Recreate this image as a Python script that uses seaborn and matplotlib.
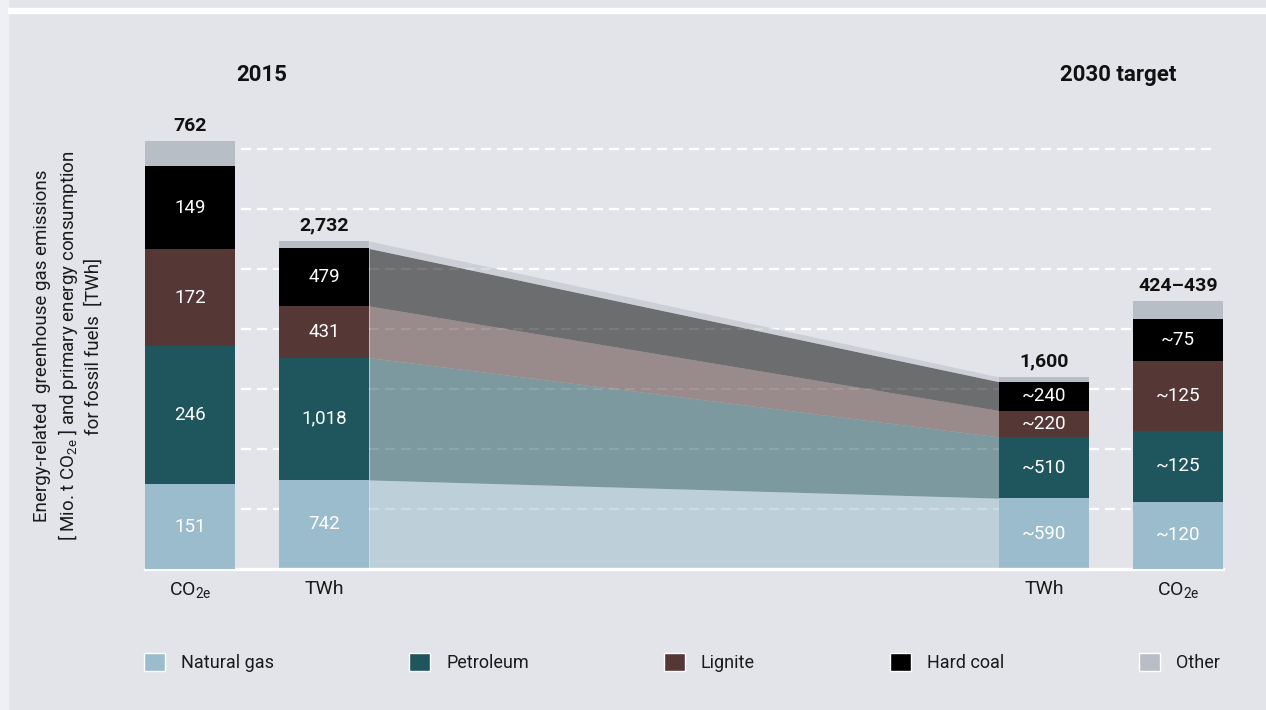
import matplotlib
matplotlib.use("Agg")
import matplotlib.pyplot as plt
from matplotlib.patches import Patch, Rectangle
import seaborn as sns

# ---- data -------------------------------------------------------------
fuels = ["Natural gas", "Petroleum", "Lignite", "Hard coal", "Other"]
colors = ["#9bbccc", "#1f555c", "#553835", "#000000", "#b7bec6"]

co2_2015 = [151, 246, 172, 149, 44]      # Mio. t CO2e
twh_2015 = [742, 1018, 431, 479, 62]     # TWh
twh_2030 = [590, 510, 220, 240, 40]      # TWh (approx.)
co2_2030 = [120, 125, 125, 75, 32]       # Mio. t CO2e (approx.)

totals = ["762", "2,732", "1,600", "424\u2013439"]
approx = [False, False, True, True]
bar_units = ["CO$_{\\mathregular{2e}}$", "TWh", "TWh", "CO$_{\\mathregular{2e}}$"]
positions = [0.0, 1.0, 6.37, 7.37]
headers = ["2015", "2030 target"]

ylabel = ("Energy-related  greenhouse gas emissions\n"
          "[ Mio. t CO$_{\\mathregular{2e}}$ ] and primary energy consumption\n"
          "for fossil fuels  [TWh]")

# ---- style ------------------------------------------------------------
BG = "#e3e4e9"
sns.set_theme(style="white", rc={
    "figure.facecolor": BG,
    "axes.facecolor": BG,
})
plt.rcParams["font.family"] = ["Roboto", "DejaVu Sans"]
plt.rcParams["mathtext.fontset"] = "custom"
plt.rcParams["mathtext.rm"] = "Roboto"
plt.rcParams["mathtext.it"] = "Roboto"
plt.rcParams["mathtext.bf"] = "Roboto:bold"

W, H = 1266, 710
fig = plt.figure(figsize=(W / 100, H / 100), dpi=100)

# page decorations: light margin strip on the left, white rule at the top
fig.patches.append(Rectangle((0, 0), 8 / W, 1, transform=fig.transFigure,
                             color="#eff0f3", zorder=0))
fig.patches.append(Rectangle((8 / W, 1 - 13 / H), 1, 5 / H,
                             transform=fig.transFigure, color="white", zorder=0))

bw = 90 / 134
ax_left, ax_right, ax_base, ax_top = 145, 1223, 569, 100
ax = fig.add_axes([ax_left / W, (H - ax_base) / H,
                   (ax_right - ax_left) / W, (ax_base - ax_top) / H])
ax.set_xlim(positions[0] - bw / 2, positions[-1] + bw / 2)
ax.set_ylim(0, 3906)                    # TWh scale
ax2 = ax.twinx()
ax2.set_ylim(0, 835)                    # Mio. t CO2e scale

# dashed reference lines, stopping just short of the last bar's edge
grid_x1 = positions[-1] + bw / 2 - 10 / 134
ax.hlines(range(500, 4000, 500), positions[0] - bw / 2, grid_x1,
          color="white", linewidth=1.6, linestyle=(0, (4.5, 2.7)), zorder=1)
ax.set_yticks([])
ax2.set_yticks([])

sns.despine(ax=ax, left=True, right=True, top=True)
sns.despine(ax=ax2, left=True, right=True, top=True, bottom=True)
ax.spines["bottom"].set_color("white")
ax.spines["bottom"].set_linewidth(2.4)
ax.spines["bottom"].set_zorder(5)


def stacked(axis, x, values, is_approx):
    bottom = 0
    for i, (v, c) in enumerate(zip(values, colors)):
        axis.bar(x, v, bw, bottom=bottom, color=c, linewidth=0, zorder=3)
        if i < len(values) - 1:
            txt = ("~" if is_approx else "") + f"{v:,}"
            axis.text(x, bottom + v / 2, txt, color="white", fontsize=13.5,
                      ha="center", va="center", zorder=4)
        bottom += v
    return bottom


series = [(ax2, co2_2015), (ax, twh_2015), (ax, twh_2030), (ax2, co2_2030)]
for (axis, vals), x, tot, apx in zip(series, positions, totals, approx):
    top = stacked(axis, x, vals, apx)
    axis.annotate(tot, (x, top), xytext=(0, 4.5), textcoords="offset points",
                  ha="center", va="bottom", fontsize=14, fontweight="bold",
                  color="#111111")

# flows between the two TWh bars
x0 = positions[1] + bw / 2
x1 = positions[2] - bw / 2
lo0 = lo1 = 0
for v0, v1, c in zip(twh_2015, twh_2030, colors):
    ax.fill_between([x0, x1], [lo0, lo1], [lo0 + v0, lo1 + v1],
                    color=c, alpha=0.52, linewidth=0, zorder=2)
    lo0 += v0
    lo1 += v1

ax.set_xticks(positions)
ax.set_xticklabels(bar_units, fontsize=14, color="#1a1a1a")
ax.tick_params(axis="x", length=0, pad=8)

fig.text(262 / W, 1 - 75 / H, headers[0], fontsize=16, fontweight="bold",
         ha="center", va="center", color="#111111")
fig.text(1118 / W, 1 - 75 / H, headers[1], fontsize=16, fontweight="bold",
         ha="center", va="center", color="#111111")

fig.text(68 / W, 1 - 346 / H, ylabel, rotation=90, fontsize=13.5,
         ha="center", va="center", multialignment="center",
         linespacing=1.3, color="#1a1a1a")

handles = [Patch(facecolor=c, edgecolor="white", linewidth=1.0) for c in colors]
fig.legend(handles, fuels, loc="lower left", ncol=5, mode="expand",
           bbox_to_anchor=(144 / W, 1 - 672 / H, (1220 - 144) / W, 30 / H),
           frameon=False, fontsize=13, handlelength=1.15, handleheight=1.15,
           handletextpad=0.9, borderaxespad=0, borderpad=0,
           labelcolor="#1a1a1a")

fig.savefig("out.png", dpi=100, facecolor=BG)
